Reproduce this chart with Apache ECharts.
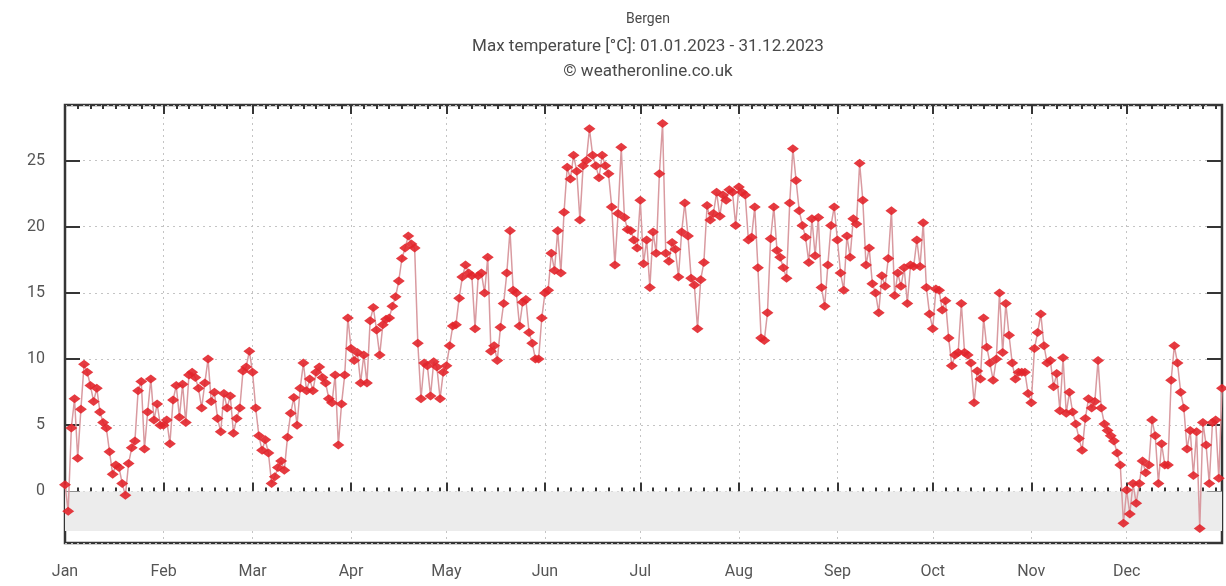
<!DOCTYPE html>
<html>
<head>
<meta charset="utf-8">
<title>Bergen – Max temperature 2023</title>
<script src="https://cdn.jsdelivr.net/npm/echarts@6/dist/echarts.min.js"></script>
<style>
  html, body { margin: 0; padding: 0; background: #fff; }
  #chart { width: 1226px; height: 586px; }
</style>
</head>
<body>
<div id="chart"></div>
<script>
// Daily maximum temperature in Bergen, 2023 (°C), one array per month
const jan = [0.5, -1.5, 4.8, 7.0, 2.5, 6.2, 9.6, 9.0, 8.0, 6.8, 7.8, 6.0, 5.2, 4.8, 3.0, 1.3, 2.0, 1.8, 0.6, -0.3, 2.1, 3.3, 3.8, 7.6, 8.3, 3.2, 6.0, 8.5, 5.4, 6.6, 5.0];
const feb = [5.0, 5.4, 3.6, 6.9, 8.0, 5.6, 8.1, 5.2, 8.8, 9.0, 8.6, 7.8, 6.3, 8.2, 10.0, 6.8, 7.5, 5.5, 4.5, 7.4, 6.3, 7.2, 4.4, 5.5, 6.3, 9.1, 9.4, 10.6];
const mar = [9.0, 6.3, 4.2, 3.1, 3.9, 2.9, 0.6, 1.1, 1.8, 2.3, 1.6, 4.1, 5.9, 7.1, 5.0, 7.8, 9.7, 7.6, 8.5, 7.6, 9.0, 9.4, 8.6, 8.2, 7.0, 6.7, 8.8, 3.5, 6.6, 8.8, 13.1];
const apr = [10.8, 9.9, 10.5, 8.2, 10.3, 8.2, 12.9, 13.9, 12.2, 10.3, 12.6, 13.0, 13.1, 14.0, 14.7, 15.9, 17.6, 18.4, 19.3, 18.7, 18.4, 11.2, 7.0, 9.7, 9.5, 7.2, 9.8, 9.4, 7.0, 9.0];
const may = [9.5, 11.0, 12.5, 12.6, 14.6, 16.2, 17.1, 16.5, 16.3, 12.3, 16.3, 16.5, 15.0, 17.7, 10.6, 11.0, 9.9, 12.4, 14.2, 16.5, 19.7, 15.2, 15.0, 12.5, 14.3, 14.5, 12.0, 11.2, 10.0, 10.0, 13.1];
const jun = [15.0, 15.2, 18.0, 16.7, 19.7, 16.5, 21.1, 24.5, 23.6, 25.4, 24.2, 20.5, 24.6, 25.0, 27.4, 25.4, 24.6, 23.7, 25.4, 24.6, 24.0, 21.5, 17.1, 21.0, 26.0, 20.7, 19.8, 19.7, 19.0, 18.4];
const jul = [22.0, 17.2, 19.0, 15.4, 19.6, 18.0, 24.0, 27.8, 18.0, 17.4, 18.8, 18.3, 16.2, 19.6, 21.8, 19.3, 16.1, 15.6, 12.3, 16.0, 17.3, 21.6, 20.5, 21.0, 22.6, 20.8, 22.4, 22.0, 22.8, 22.6, 20.1];
const aug = [23.0, 22.6, 22.4, 19.0, 19.2, 21.5, 16.9, 11.6, 11.4, 13.5, 19.1, 21.5, 18.2, 17.7, 16.9, 16.1, 21.8, 25.9, 23.5, 21.2, 20.1, 19.2, 17.3, 20.6, 17.8, 20.7, 15.4, 14.0, 17.1, 20.1, 21.5];
const sep = [19.0, 16.5, 15.2, 19.3, 17.7, 20.6, 20.2, 24.8, 22.0, 17.1, 18.4, 15.7, 15.0, 13.5, 16.3, 15.5, 17.6, 21.2, 14.8, 16.5, 15.5, 16.9, 14.2, 17.1, 17.0, 19.0, 17.0, 20.3, 15.4, 13.4];
const oct = [12.3, 15.3, 15.2, 13.7, 14.4, 11.6, 9.5, 10.3, 10.5, 14.2, 10.5, 10.3, 9.7, 6.7, 9.1, 8.5, 13.1, 10.9, 9.7, 8.4, 10.0, 15.0, 10.5, 14.2, 11.8, 9.7, 8.5, 9.0, 9.0, 9.0, 7.4];
const nov = [6.7, 10.8, 12.0, 13.4, 11.0, 9.7, 9.9, 7.9, 8.9, 6.1, 10.1, 5.9, 7.5, 6.0, 5.1, 4.0, 3.1, 5.5, 7.0, 6.3, 6.8, 9.9, 6.3, 5.1, 4.6, 4.2, 3.8, 2.9, 2.0, -2.4];
const dec = [0.1, -1.7, 0.6, -0.9, 0.6, 2.3, 1.4, 2.0, 5.4, 4.2, 0.6, 3.6, 2.0, 2.0, 8.4, 11.0, 9.7, 7.5, 6.3, 3.2, 4.6, 1.2, 4.5, -2.8, 5.2, 3.5, 0.6, 5.2, 5.4, 1.0, 7.8];

const monthNames = ['Jan', 'Feb', 'Mar', 'Apr', 'May', 'Jun', 'Jul', 'Aug', 'Sep', 'Oct', 'Nov', 'Dec'];
const months = [jan, feb, mar, apr, may, jun, jul, aug, sep, oct, nov, dec];

const titleLines = ['Bergen', 'Max temperature [°C]: 01.01.2023 - 31.12.2023', '© weatheronline.co.uk'];

// Build one category per day ("2023-MM-DD") and the matching value list
const days = [];
const values = [];
months.forEach((arr, m) => {
  arr.forEach((v, d) => {
    days.push('2023-' + String(m + 1).padStart(2, '0') + '-' + String(d + 1).padStart(2, '0'));
    values.push(v);
  });
});

const isMonthStart = (i) => days[i].endsWith('-01');
const dayOfMonth = (i) => parseInt(days[i].slice(8), 10) - 1;
const isMinorTick = (i) => !isMonthStart(i) && dayOfMonth(i) % 4 === 0;

const FONT = 'Roboto, "Open Sans", sans-serif';
const TEXT = '#555';
const FRAME = '#353535';

const baseX = {
  type: 'category',
  data: days,
  boundaryGap: false,
  axisLine: { show: false },
  axisLabel: { show: false },
  splitLine: { show: false },
  axisTick: { show: false }
};

const yRange = { min: -3.9, max: 29.2 };

const chart = echarts.init(document.getElementById('chart'), null, { renderer: 'canvas' });

chart.setOption({
  animation: false,
  backgroundColor: '#fff',
  textStyle: { fontFamily: FONT },
  title: titleLines.map((t, i) => ({
    text: t,
    left: 643,
    top: [7, 33, 58][i],
    textAlign: 'center',
    textStyle: {
      fontFamily: FONT,
      fontWeight: 'normal',
      fontSize: i === 0 ? 14 : 17,
      color: '#4a4a4a'
    }
  })),
  grid: {
    left: 65,
    right: 4,
    top: 105,
    bottom: 43,
    show: true,
    borderColor: FRAME,
    borderWidth: 2.5,
    backgroundColor: 'transparent'
  },
  xAxis: [
    // bottom: month labels, month ticks, vertical month grid
    Object.assign({}, baseX, {
      position: 'bottom',
      axisLabel: {
        show: true,
        interval: (i) => isMonthStart(i),
        formatter: (v) => monthNames[parseInt(v.slice(5, 7), 10) - 1],
        color: TEXT,
        fontSize: 16,
        margin: 21,
        fontFamily: FONT
      },
      axisTick: {
        show: true,
        inside: true,
        length: 9,
        interval: (i) => isMonthStart(i),
        lineStyle: { color: FRAME, width: 2 }
      },
      splitLine: {
        show: true,
        interval: (i) => isMonthStart(i) && i > 0,
        lineStyle: { color: '#c4c4c4', type: [2, 4], width: 1 }
      }
    }),
    // bottom: minor ticks
    Object.assign({}, baseX, {
      position: 'bottom',
      axisTick: {
        show: true,
        inside: true,
        length: 4,
        interval: (i) => isMinorTick(i),
        lineStyle: { color: FRAME, width: 2 }
      }
    }),
    // top: month ticks
    Object.assign({}, baseX, {
      position: 'top',
      axisTick: {
        show: true,
        inside: true,
        length: 9,
        interval: (i) => isMonthStart(i),
        lineStyle: { color: FRAME, width: 2 }
      }
    }),
    // top: minor ticks
    Object.assign({}, baseX, {
      position: 'top',
      axisTick: {
        show: true,
        inside: true,
        length: 4,
        interval: (i) => isMinorTick(i),
        lineStyle: { color: FRAME, width: 2 }
      }
    })
  ],
  yAxis: [
    Object.assign({}, yRange, {
      type: 'value',
      position: 'left',
      axisLine: { show: false },
      axisTick: { show: true, inside: true, length: 15, lineStyle: { color: FRAME, width: 2 } },
      axisLabel: {
        color: TEXT,
        fontSize: 16,
        margin: 20,
        showMinLabel: false,
        showMaxLabel: false,
        fontFamily: FONT
      },
      splitLine: { show: true, lineStyle: { color: '#c4c4c4', type: [2, 4], width: 1 } }
    }),
    Object.assign({}, yRange, {
      type: 'value',
      position: 'right',
      axisLine: { show: false },
      axisTick: { show: true, inside: true, length: 15, lineStyle: { color: FRAME, width: 2 } },
      axisLabel: { show: false },
      splitLine: { show: false }
    })
  ],
  series: [
    {
      name: 'Max temperature',
      type: 'line',
      xAxisIndex: 0,
      yAxisIndex: 0,
      data: values,
      symbol: 'diamond',
      symbolSize: [12, 9],
      showAllSymbol: true,
      itemStyle: { color: '#e2252b', opacity: 0.9 },
      lineStyle: { color: '#d99aa0', width: 1.5 },
      markArea: {
        silent: true,
        itemStyle: { color: '#ececec' },
        data: [[{ yAxis: 0 }, { yAxis: -3 }]]
      },
      z: 3
    }
  ]
});
</script>
</body>
</html>
